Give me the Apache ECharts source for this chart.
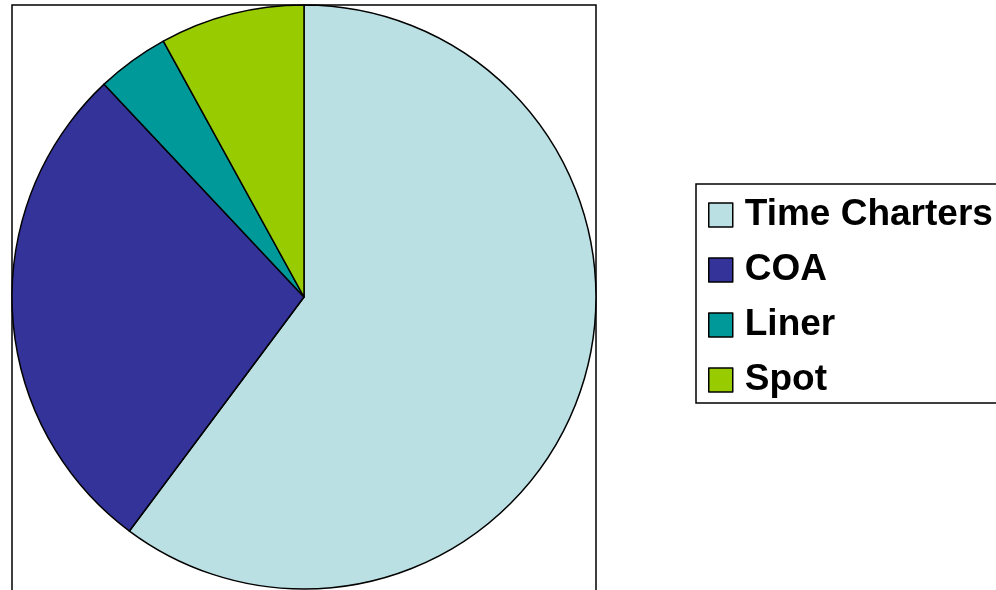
<!DOCTYPE html>
<html>
<head>
<meta charset="utf-8">
<script src="https://cdn.jsdelivr.net/npm/echarts@6/dist/echarts.min.js"></script>
<style>
  html, body { margin: 0; padding: 0; background: #fff; }
  #chart { width: 996px; height: 590px; }
</style>
</head>
<body>
<div id="chart"></div>
<script>
// shares (%)
const categories = ['Time Charters', 'COA', 'Liner', 'Spot']
const values = [60.2, 27.8, 4.0, 8.0]
const colors = ['#BBE0E3', '#333399', '#009999', '#99CC00']

const chart = echarts.init(document.getElementById('chart'))

const option = {
  animation: false,
  color: colors,
  graphic: [
    {
      // plot area frame
      type: 'rect',
      shape: { x: 12, y: 5, width: 584, height: 620 },
      style: { fill: 'none', stroke: '#000', lineWidth: 1.5 },
      z: 0,
    },
  ],
  legend: {
    orient: 'vertical',
    left: 696,
    top: 184,
    padding: [11, 40, 3, 12],
    borderColor: '#000',
    borderWidth: 1.5,
    itemWidth: 24,
    itemHeight: 24,
    itemGap: 15,
    icon: 'rect',
    selectedMode: false,
    itemStyle: { borderColor: '#000', borderWidth: 1.5 },
    textStyle: {
      fontFamily: 'Liberation Sans, Arial, sans-serif',
      fontWeight: 'bold',
      fontSize: 37,
      lineHeight: 40,
      color: '#000',
      padding: [0, 0, 0, 7],
    },
    data: categories,
  },
  series: [
    {
      type: 'pie',
      center: [304, 297],
      radius: 292,
      startAngle: 90,
      clockwise: true,
      label: { show: false },
      labelLine: { show: false },
      emphasis: { disabled: true },
      itemStyle: { borderColor: '#000', borderWidth: 1.5 },
      z: 2,
      data: categories.map((name, i) => ({ name, value: values[i] })),
    },
  ],
}

chart.setOption(option)
</script>
</body>
</html>
